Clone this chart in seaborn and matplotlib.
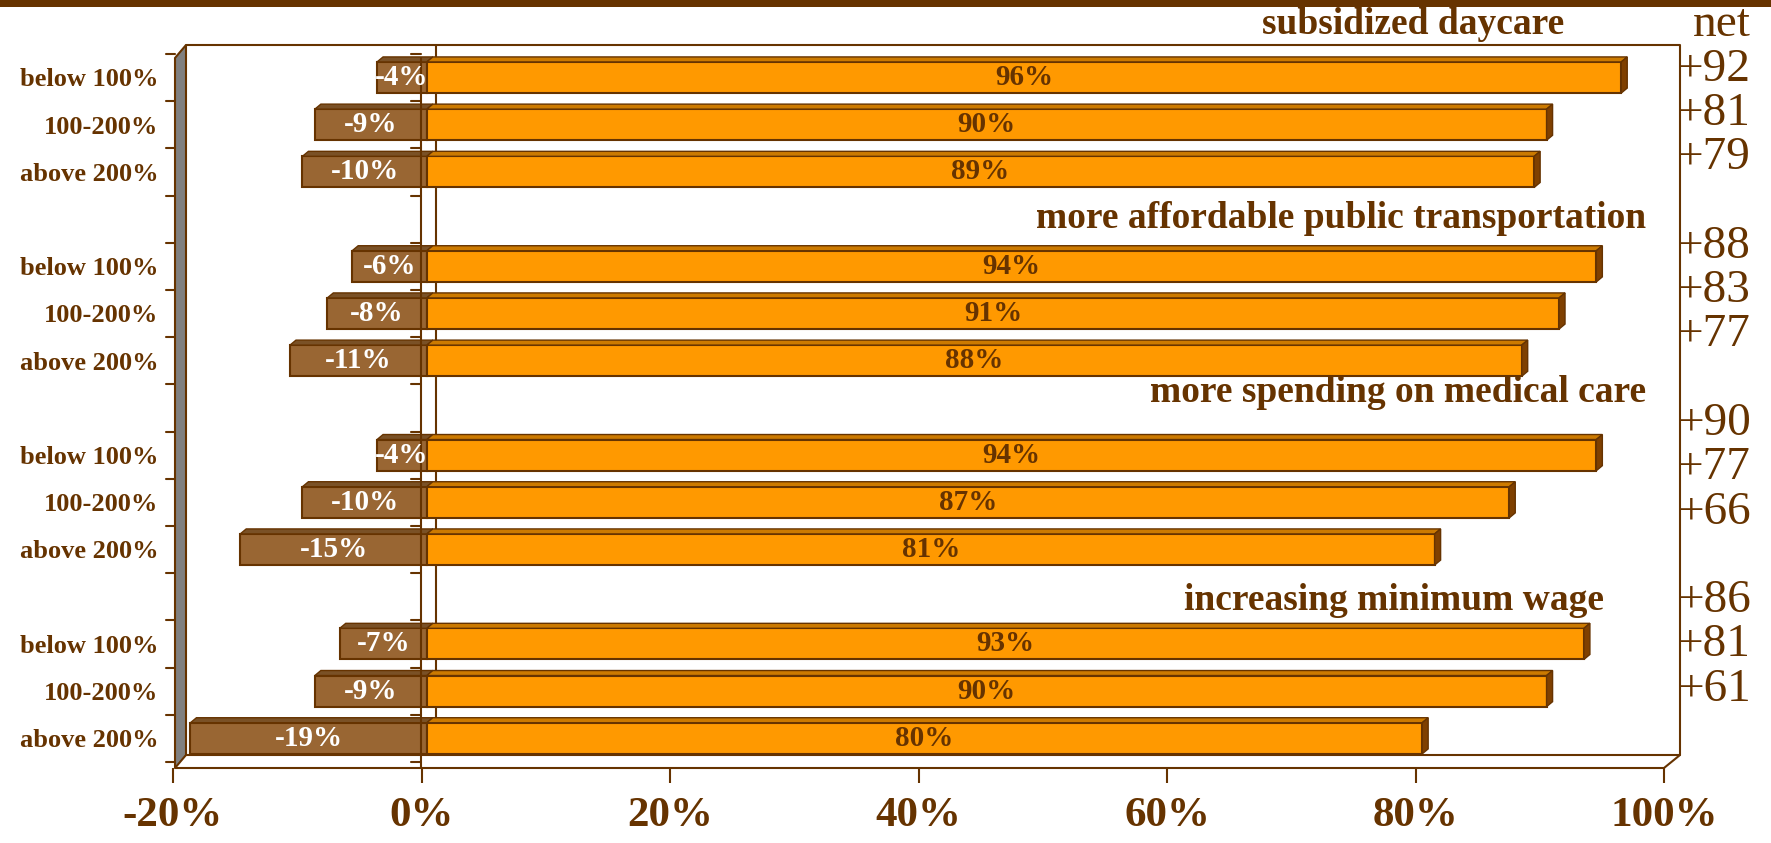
import matplotlib
matplotlib.use('Agg')
import matplotlib.pyplot as plt
import seaborn as sns
import pandas as pd
from matplotlib.patches import Polygon, Rectangle
from matplotlib.lines import Line2D
from matplotlib.transforms import Affine2D

W, H = 1771, 843
BROWN = '#663300'
ORANGE = '#FF9900'
TAN = '#996633'

# data
groups = ['subsidized daycare', 'more affordable public transportation',
          'more spending on medical care', 'increasing minimum wage']
incomes = ['below 100%', '100-200%', 'above 200%']
oppose = [4, 9, 10, 6, 8, 11, 4, 10, 15, 7, 9, 19]
support = [96, 90, 89, 94, 91, 88, 94, 87, 81, 93, 90, 80]
xticks = [-20, 0, 20, 40, 60, 80, 100]

rows = []
for g, grp in enumerate(groups):
    for i, inc in enumerate(incomes):
        k = 3 * g + i
        rows.append(dict(group=grp, income=inc, slot=4 * g + i,
                         oppose=-oppose[k], support=support[k],
                         net=support[k] - oppose[k]))
df = pd.DataFrame(rows)

sns.set_theme(style='white')
plt.rcParams['font.family'] = ['Liberation Serif', 'DejaVu Serif']

fig = plt.figure(figsize=(W / 100, H / 100), dpi=100)
px = Affine2D().scale(1 / W, -1 / H).translate(0, 1) + fig.transFigure


def fbox(x0, y0, x1, y1):
    return [x0 / W, 1 - y1 / H, (x1 - x0) / W, (y1 - y0) / H]


def slot_of(py):
    return (py - 77.5) / 47.2


ax = fig.add_axes(fbox(178, 45, 1671, 768))
ax.patch.set_visible(False)

n0 = len(ax.patches)
sns.barplot(data=df, x='oppose', y='slot', orient='y', native_scale=True,
            width=0.66, color=TAN, saturation=1, edgecolor=BROWN,
            linewidth=1.5, errorbar=None, ax=ax, zorder=2)
n1 = len(ax.patches)
sns.barplot(data=df, x='support', y='slot', orient='y', native_scale=True,
            width=0.66, color=ORANGE, saturation=1, edgecolor=BROWN,
            linewidth=1.5, errorbar=None, ax=ax, zorder=2)
neg_bars = ax.patches[n0:n1]
pos_bars = ax.patches[n1:]

# fake 3d depth
dx = 6 / 12.44
dy = 5 / 47.2
for bars, top_col in [(neg_bars, '#7a5126'), (pos_bars, '#CC7A00')]:
    for p in bars:
        x0, w = p.get_x(), p.get_width()
        y0, h = p.get_y(), p.get_height()
        left, right = min(x0, x0 + w), max(x0, x0 + w)
        top, bot = min(y0, y0 + h), max(y0, y0 + h)
        ax.add_patch(Polygon([(left, top), (right, top), (right + dx, top - dy),
                              (left + dx, top - dy)], closed=True,
                             facecolor=top_col, edgecolor=BROWN, lw=1, zorder=2))
        if bars is pos_bars:
            ax.add_patch(Polygon([(right, top), (right + dx, top - dy),
                                  (right + dx, bot - dy), (right, bot)], closed=True,
                                 facecolor='#7F4000', edgecolor=BROWN, lw=1, zorder=2))

# value labels
for p in neg_bars:
    v = p.get_width()
    ax.text(p.get_x() + v / 2, p.get_y() + p.get_height() / 2, f'{v:.0f}%',
            ha='center', va='center', color='white', fontsize=21,
            fontweight='bold', zorder=5)
for p in pos_bars:
    v = p.get_width()
    ax.text(p.get_x() + v / 2, p.get_y() + p.get_height() / 2, f'{v:.0f}%',
            ha='center', va='center', color=BROWN, fontsize=21,
            fontweight='bold', zorder=5)

ax.set_xlim(-20, 100)
ax.set_ylim(slot_of(768), slot_of(45))
ax.set_xticks([])
ax.set_yticks(df['slot'], df['income'])
ax.tick_params(axis='y', length=0, pad=14, labelsize=19, labelcolor=BROWN)
for t in ax.get_yticklabels():
    t.set_fontweight('bold')
ax.set_xlabel('')
ax.set_ylabel('')
for s in ax.spines.values():
    s.set_visible(False)


def pline(xs, ys, z=1, lw=1.5, color=BROWN):
    ax.add_artist(Line2D(xs, ys, transform=px, color=color, lw=lw,
                         clip_on=False, zorder=z))


# back wall, floor, side wall
pline([186, 1680, 1680, 186], [45, 45, 755, 755], z=0.5)
pline([436, 436], [45, 755], z=0.5)
pline([175, 1664, 1680], [768, 768, 755], z=1)
ax.add_artist(Polygon([(175, 58), (186, 45), (186, 755), (175, 768)], closed=True,
                      transform=px, facecolor='#808080', edgecolor=BROWN, lw=1.5,
                      clip_on=False, zorder=1))
# category axis at zero and on the wall
pline([421, 421], [58, 768], z=3)
for b in range(16):
    yb = 77.5 + 47.2 * (b - 0.5)
    pline([166, 175], [yb, yb], z=3)
    pline([411, 421], [yb, yb], z=3)

# group titles
title_pos = [(1564, 25), (1646, 218), (1646, 393), (1604, 601)]
for grp, (tx, ty) in zip(groups, title_pos):
    fig.text(tx, ty, grp, transform=px, ha='right', va='center',
             fontsize=27, fontweight='bold', color=BROWN)

# net column
fig.text(1751, 25, 'net', transform=px, ha='right', va='center',
         fontsize=34, color=BROWN)
for slot, net in zip(df['slot'], df['net']):
    fig.text(1751, 25 + 44.3 * (slot + 1), f'+{net}', transform=px,
             ha='right', va='center', fontsize=34, color=BROWN)

# x axis on the front floor edge
ax2 = fig.add_axes(fbox(173, 767, 1664, 768))
ax2.patch.set_visible(False)
ax2.set_xlim(-20, 100)
ax2.set_xticks(xticks, [f'{v}%' for v in xticks])
ax2.set_yticks([])
ax2.tick_params(axis='x', length=11, width=1.5, color=BROWN, labelsize=31,
                labelcolor=BROWN, pad=10, bottom=True)
for t in ax2.get_xticklabels():
    t.set_fontweight('bold')
for s in ax2.spines.values():
    s.set_visible(False)

fig.add_artist(Rectangle((0, 0), W, 7, transform=px, color=BROWN, lw=0))

fig.savefig('out.png', dpi=100)
